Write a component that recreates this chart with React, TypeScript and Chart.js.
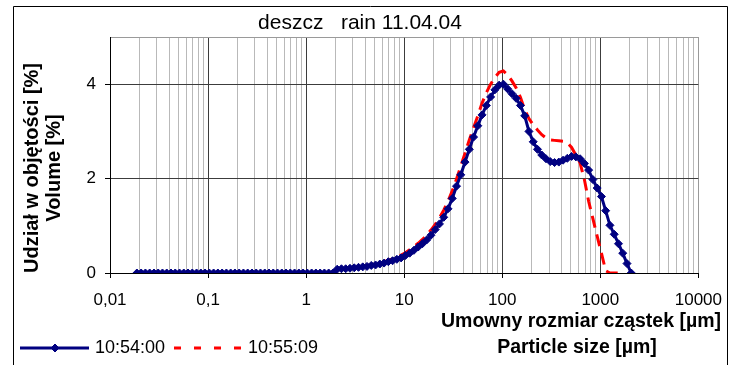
import React, { useEffect, useRef } from 'react';
import { Chart, registerables } from 'chart.js';

Chart.register(...registerables);

// Particle size classes [µm]
const SIZES = [
  0.0188, 0.02078, 0.02297, 0.02539, 0.02806, 0.03101, 0.03428, 0.03788, 0.04187, 0.04628,
  0.05115, 0.05653, 0.06248, 0.06906, 0.07633, 0.08436, 0.09324, 0.1030, 0.1139, 0.1259,
  0.1391, 0.1538, 0.1700, 0.1878, 0.2076, 0.2295, 0.2536, 0.2803, 0.3098, 0.3425,
  0.3784, 0.4183, 0.4623, 0.5110, 0.5648, 0.6242, 0.6899, 0.7625, 0.8428, 0.9314,
  1.029, 1.138, 1.257, 1.390, 1.536, 1.698, 1.876, 2.074, 2.292, 2.533,
  2.800, 3.095, 3.420, 3.781, 4.178, 4.618, 5.105, 5.642, 6.236, 6.892,
  7.617, 8.420, 9.305, 10.28, 11.37, 12.56, 13.89, 15.35, 16.96, 18.75,
  20.72, 22.90, 25.31, 27.98, 30.92, 34.18, 37.77, 41.75, 46.14, 51.00,
  56.36, 62.30, 68.86, 76.10, 84.11, 92.96, 102.8, 113.6, 125.5, 138.7,
  153.3, 169.5, 187.3, 207.0, 228.8, 252.9, 279.5, 308.9, 341.5, 377.4,
  417.1, 461.0, 509.6, 563.2, 622.4, 688.0, 760.3, 840.4, 928.8, 1027,
  1134, 1254, 1386, 1532, 1693, 1871, 2068,
];

// Volume [%] at 10:54:00
const VOLUME_1054 = [
  0, 0, 0, 0, 0, 0, 0, 0, 0, 0,
  0, 0, 0, 0, 0, 0, 0, 0, 0, 0,
  0, 0, 0, 0, 0, 0, 0, 0, 0, 0,
  0, 0, 0, 0, 0, 0, 0, 0, 0, 0,
  0, 0, 0, 0, 0, 0, 0, 0.08, 0.09, 0.09,
  0.10, 0.11, 0.12, 0.13, 0.14, 0.16, 0.17, 0.19, 0.21, 0.24,
  0.26, 0.29, 0.32, 0.37, 0.42, 0.48, 0.55, 0.62, 0.70, 0.80,
  0.92, 1.04, 1.18, 1.36, 1.58, 1.84, 2.08, 2.35, 2.62, 2.88,
  3.12, 3.35, 3.55, 3.73, 3.88, 3.98, 4.00, 3.90, 3.80, 3.70,
  3.55, 3.33, 3.00, 2.78, 2.62, 2.50, 2.42, 2.36, 2.34, 2.35,
  2.39, 2.43, 2.47, 2.46, 2.42, 2.32, 2.18, 1.98, 1.80, 1.62,
  1.32, 1.01, 0.82, 0.62, 0.42, 0.20, 0,
];

// Volume [%] at 10:55:09
const VOLUME_1055 = [
  0, 0, 0, 0, 0, 0, 0, 0, 0, 0,
  0, 0, 0, 0, 0, 0, 0, 0, 0, 0,
  0, 0, 0, 0, 0, 0, 0, 0, 0, 0,
  0, 0, 0, 0, 0, 0, 0, 0, 0, 0,
  0, 0, 0, 0, 0, 0, 0, 0.07, 0.09, 0.10,
  0.11, 0.12, 0.13, 0.14, 0.16, 0.17, 0.19, 0.21, 0.24, 0.27,
  0.30, 0.34, 0.38, 0.43, 0.49, 0.56, 0.63, 0.71, 0.80, 0.91,
  1.03, 1.17, 1.33, 1.52, 1.74, 1.99, 2.26, 2.54, 2.82, 3.08,
  3.33, 3.60, 3.82, 4.00, 4.14, 4.25, 4.28, 4.20, 4.07, 3.92,
  3.72, 3.46, 3.27, 3.14, 3.03, 2.93, 2.86, 2.82, 2.81, 2.80,
  2.79, 2.76, 2.66, 2.50, 2.33, 1.98, 1.52, 1.15, 0.78, 0.42,
  0.05, 0, 0, 0, 0, null, null,
];

const LABEL_1054 = '10:54:00';
const LABEL_1055 = '10:55:09';
const TITLE = 'deszcz   rain 11.04.04';
const Y_TITLE = ['Udział w objętości [%]', 'Volume [%]'];
const X_TITLE_PL = 'Umowny rozmiar cząstek [µm]';
const X_TITLE_EN = 'Particle size [µm]';

const X_DECADES = [0.01, 0.1, 1, 10, 100, 1000, 10000];
const X_TICK_LABELS = ['0,01', '0,1', '1', '10', '100', '1000', '10000'];
const X_MINOR_STEPS = [1, 2, 3, 4, 5, 6, 7, 8, 9];
const Y_TICKS = [0, 2, 4];
const Y_MAX = 5;

const FONT = '"Liberation Sans", Arial, Helvetica, sans-serif';

const X_GRID: number[] = [];
X_DECADES.forEach((d, i) => {
  if (i === X_DECADES.length - 1) X_GRID.push(d);
  else X_MINOR_STEPS.forEach((k) => X_GRID.push(k * d));
});

const decadeIndex = (v: number) =>
  X_DECADES.findIndex((d) => Math.abs(Math.log10(v) - Math.log10(d)) < 1e-6);

const decorPlugin = {
  id: 'decor',
  afterDraw(chart: any) {
    const ctx = chart.ctx as CanvasRenderingContext2D;
    ctx.save();
    // outer frame
    ctx.strokeStyle = '#000';
    ctx.lineWidth = 1;
    ctx.setLineDash([]);
    ctx.beginPath();
    ctx.moveTo(13.5, 400);
    ctx.lineTo(13.5, 6.5);
    ctx.lineTo(727.5, 6.5);
    ctx.lineTo(727.5, 400);
    ctx.stroke();

    ctx.fillStyle = '#000';
    // title
    ctx.font = `21px ${FONT}`;
    ctx.textAlign = 'center';
    ctx.textBaseline = 'alphabetic';
    ctx.fillText(TITLE, 360, 29);

    // y titles
    ctx.font = `bold 20px ${FONT}`;
    ctx.save();
    ctx.translate(37.5, 168);
    ctx.rotate(-Math.PI / 2);
    ctx.fillText(Y_TITLE[0], 0, 0);
    ctx.restore();
    ctx.save();
    ctx.translate(60, 168);
    ctx.rotate(-Math.PI / 2);
    ctx.fillText(Y_TITLE[1], 0, 0);
    ctx.restore();

    // x titles
    ctx.font = `bold 19.5px ${FONT}`;
    ctx.textAlign = 'right';
    ctx.fillText(X_TITLE_PL, 721, 327);
    ctx.textAlign = 'center';
    ctx.fillText(X_TITLE_EN, 577, 353);

    // legend
    ctx.lineWidth = 3;
    ctx.strokeStyle = '#000080';
    ctx.beginPath();
    ctx.moveTo(20, 348);
    ctx.lineTo(89, 348);
    ctx.stroke();
    ctx.fillStyle = '#000080';
    ctx.lineWidth = 1;
    ctx.beginPath();
    ctx.moveTo(51, 348);
    ctx.lineTo(55, 344);
    ctx.lineTo(59, 348);
    ctx.lineTo(55, 352);
    ctx.closePath();
    ctx.fill();
    ctx.stroke();

    ctx.lineWidth = 3;
    ctx.strokeStyle = '#ff0000';
    ctx.setLineDash([7, 13]);
    ctx.beginPath();
    ctx.moveTo(174, 348);
    ctx.lineTo(242, 348);
    ctx.stroke();
    ctx.setLineDash([]);

    ctx.fillStyle = '#000';
    ctx.font = `18px ${FONT}`;
    ctx.textAlign = 'left';
    ctx.fillText(LABEL_1054, 95, 353);
    ctx.fillText(LABEL_1055, 248, 353);
    ctx.restore();
  },
};

export default function App() {
  const ref = useRef<HTMLCanvasElement>(null);

  useEffect(() => {
    if (!ref.current) return;
    const chart = new Chart(ref.current, {
      type: 'line',
      data: {
        datasets: [
          {
            label: LABEL_1054,
            data: SIZES.map((x, i) => ({ x, y: VOLUME_1054[i] })),
            borderColor: '#000080',
            backgroundColor: '#000080',
            borderWidth: 3,
            pointStyle: 'rectRot',
            pointRadius: 4,
            pointBorderWidth: 1,
            pointBackgroundColor: '#000080',
            pointBorderColor: '#000080',
            tension: 0,
            fill: false,
          },
          {
            label: LABEL_1055,
            data: SIZES.map((x, i) => ({ x, y: VOLUME_1055[i] })),
            borderColor: '#ff0000',
            backgroundColor: '#ff0000',
            borderWidth: 3,
            borderDash: [12, 7],
            pointRadius: 0,
            tension: 0,
            fill: false,
            spanGaps: false,
          },
        ],
      } as any,
      options: {
        responsive: false,
        animation: false,
        devicePixelRatio: 1,
        layout: { padding: { left: 0, top: 37, right: 34, bottom: 0 } },
        plugins: {
          legend: { display: false },
          title: { display: false },
          tooltip: { enabled: false },
        },
        scales: {
          x: {
            type: 'logarithmic',
            position: 'bottom',
            min: 0.01,
            max: 10000,
            afterBuildTicks: (s: any) => {
              s.ticks = X_GRID.map((v) => ({ value: v, major: decadeIndex(v) >= 0 }));
            },
            afterFit: (s: any) => {
              s.height = 92;
            },
            ticks: {
              autoSkip: false,
              maxRotation: 0,
              minRotation: 0,
              padding: 12,
              color: '#000',
              font: { size: 17, family: FONT },
              callback: (v: any) => {
                const i = decadeIndex(Number(v));
                return i >= 0 ? X_TICK_LABELS[i] : '';
              },
            },
            grid: {
              lineWidth: 1,
              tickLength: 5,
              color: (c: any) => {
                const v = c.tick ? c.tick.value : 0;
                const i = decadeIndex(v);
                if (i === 0) return '#000';
                if (i === X_DECADES.length - 1) return '#9a9a9a';
                if (i > 0) return '#3c3c3c';
                return '#b9b9b9';
              },
              tickColor: (c: any) => {
                const v = c.tick ? c.tick.value : 0;
                return decadeIndex(v) >= 0 ? '#000' : 'rgba(0,0,0,0)';
              },
            },
            border: { color: '#000', width: 1 },
          },
          y: {
            type: 'linear',
            min: 0,
            max: Y_MAX,
            afterBuildTicks: (s: any) => {
              s.ticks = [...Y_TICKS, Y_MAX].map((v) => ({ value: v }));
            },
            afterFit: (s: any) => {
              s.width = 110;
            },
            ticks: {
              padding: 9,
              color: '#000',
              font: { size: 17, family: FONT },
              callback: (v: any) => (Y_TICKS.includes(Number(v)) ? String(v) : ''),
            },
            grid: {
              lineWidth: 1,
              tickLength: 5,
              color: (c: any) => {
                const v = c.tick ? c.tick.value : 0;
                if (v === 0) return '#000';
                if (v === Y_MAX) return '#9a9a9a';
                return '#3c3c3c';
              },
              tickColor: (c: any) => {
                const v = c.tick ? c.tick.value : 0;
                return v === Y_MAX ? 'rgba(0,0,0,0)' : '#000';
              },
            },
            border: { color: '#000', width: 1 },
          },
        },
      } as any,
      plugins: [decorPlugin],
    });
    return () => chart.destroy();
  }, []);

  return (
    <div
      style={{
        position: 'fixed',
        left: 0,
        top: 0,
        width: 734,
        height: 365,
        background: '#fff',
        overflow: 'hidden',
      }}
    >
      <canvas ref={ref} width={734} height={365} style={{ display: 'block', width: 734, height: 365 }} />
    </div>
  );
}
